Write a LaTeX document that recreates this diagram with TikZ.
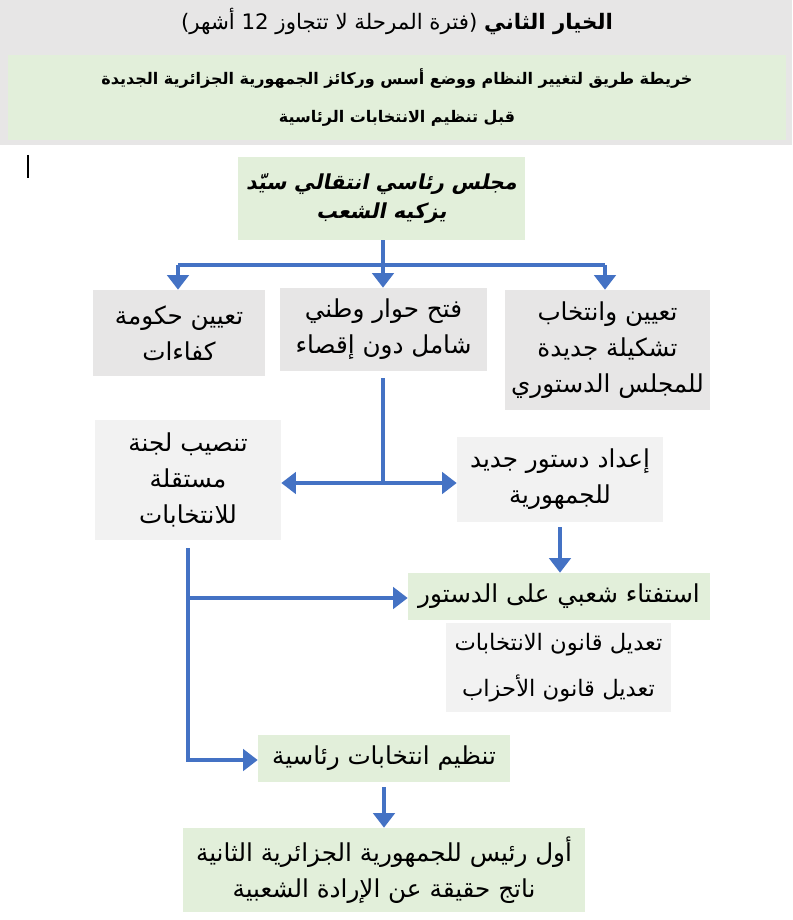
\documentclass[tikz,border=0pt]{standalone}
\usepackage{fontspec}
\setmainfont[Script=Arabic]{DejaVu Sans}
\newfontfamily\slantfont[Script=Arabic,FakeSlant=0.2]{DejaVu Sans Bold}
\TeXXeTstate=1
\usetikzlibrary{arrows.meta}
\definecolor{arrowblue}{HTML}{4472C4}
\definecolor{boxgray}{HTML}{E7E6E6}
\definecolor{palegray}{HTML}{F2F2F2}
\definecolor{boxgreen}{HTML}{E2EFDA}
\newcommand{\rtl}[1]{\beginR #1\endR}

\begin{document}
\begin{tikzpicture}[x=0.75pt, y=-0.75pt,
    box/.style={inner sep=0pt, align=center, font=\fontsize{18.5}{27}\selectfont},
    dims/.style 2 args={minimum width=#1*0.75pt, minimum height=#2*0.75pt},
    line/.style={draw=arrowblue, line width=3pt},
    arrow/.style={line, -{Triangle[width=16pt,length=11pt]}}]

  \useasboundingbox (0,0) rectangle (792,920);

  % header
  \fill[boxgray] (0,0) rectangle (792,145);
  \node[box, font=\fontsize{16}{22}\selectfont] (title) at (397,21)
    {\rtl{\textbf{الخيار الثاني} (فترة المرحلة لا تتجاوز \beginL 12\endL{} أشهر)}};
  \node[box, fill=boxgreen, dims={778}{85}, font=\bfseries\fontsize{12}{29}\selectfont] (roadmap) at (397,97.5)
    {\rtl{خريطة طريق لتغيير النظام ووضع أسس وركائز الجمهورية الجزائرية الجديدة}\\
     \rtl{قبل تنظيم الانتخابات الرئاسية}};
  \draw[line width=0.8pt] (28,155) -- (28,178);

  % boxes
  \node[box, fill=boxgreen, dims={287}{83}, font=\slantfont\fontsize{15.5}{22}\selectfont] (council) at (381.5,198.5)
    {\rtl{مجلس رئاسي انتقالي سيّد}\\ \rtl{يزكيه الشعب}};
  \node[box, fill=boxgray, dims={172}{86}] (gov) at (179,333)
    {\rtl{تعيين حكومة}\\ \rtl{كفاءات}};
  \node[box, fill=boxgray, dims={207}{83}] (dialog) at (383.5,329.5)
    {\rtl{فتح حوار وطني}\\ \rtl{شامل دون إقصاء}};
  \node[box, fill=boxgray, dims={205}{120}] (court) at (607.5,350)
    {\rtl{تعيين وانتخاب}\\ \rtl{تشكيلة جديدة}\\ \rtl{للمجلس الدستوري}};
  \node[box, fill=palegray, dims={186}{120}] (commission) at (188,480)
    {\rtl{تنصيب لجنة}\\ \rtl{مستقلة}\\ \rtl{للانتخابات}};
  \node[box, fill=palegray, dims={206}{85}] (constitution) at (560,479.5)
    {\rtl{إعداد دستور جديد}\\ \rtl{للجمهورية}};
  \node[box, fill=boxgreen, dims={302}{47}] (referendum) at (559,596.5)
    {\rtl{استفتاء شعبي على الدستور}};
  \node[box, fill=palegray, dims={225}{89}, font=\fontsize{17}{34}\selectfont] (laws) at (558.5,667.5)
    {\rtl{تعديل قانون الانتخابات}\\ \rtl{تعديل قانون الأحزاب}};
  \node[box, fill=boxgreen, dims={252}{47}] (election) at (384,758.5)
    {\rtl{تنظيم انتخابات رئاسية}};
  \node[box, fill=boxgreen, dims={402}{84}] (president) at (384,870)
    {\rtl{أول رئيس للجمهورية الجزائرية الثانية}\\ \rtl{ناتج حقيقة عن الإرادة الشعبية}};

  % connectors
  \coordinate (fork) at (383,265);
  \coordinate (forkL) at (178,265);
  \coordinate (forkR) at (605,265);
  \draw[line] (fork |- council.south) -- (fork);
  \draw[line] (forkL) -- (forkR);
  \draw[arrow] (forkL) -- (forkL |- gov.north);
  \draw[arrow] (fork) -- (fork |- dialog.north);
  \draw[arrow] (forkR) -- (forkR |- court.north);

  \coordinate (split) at (383,483);
  \draw[line] (383,378) -- (split);
  \draw[arrow] (split) -- (commission.east |- split);
  \draw[arrow] (split) -- (constitution.west |- split);

  \coordinate (vote) at (560,527);
  \draw[arrow] (vote) -- (vote |- referendum.north);

  \coordinate (drop) at (188,548);
  \coordinate (branch) at (188,598);
  \coordinate (corner) at (188,760);
  \draw[arrow] (drop) -- (corner) -- (election.west |- corner);
  \draw[arrow] (branch) -- (referendum.west |- branch);
  \coordinate (poll) at (384,787);
  \draw[arrow] (poll) -- (poll |- president.north);
\end{tikzpicture}
\end{document}
